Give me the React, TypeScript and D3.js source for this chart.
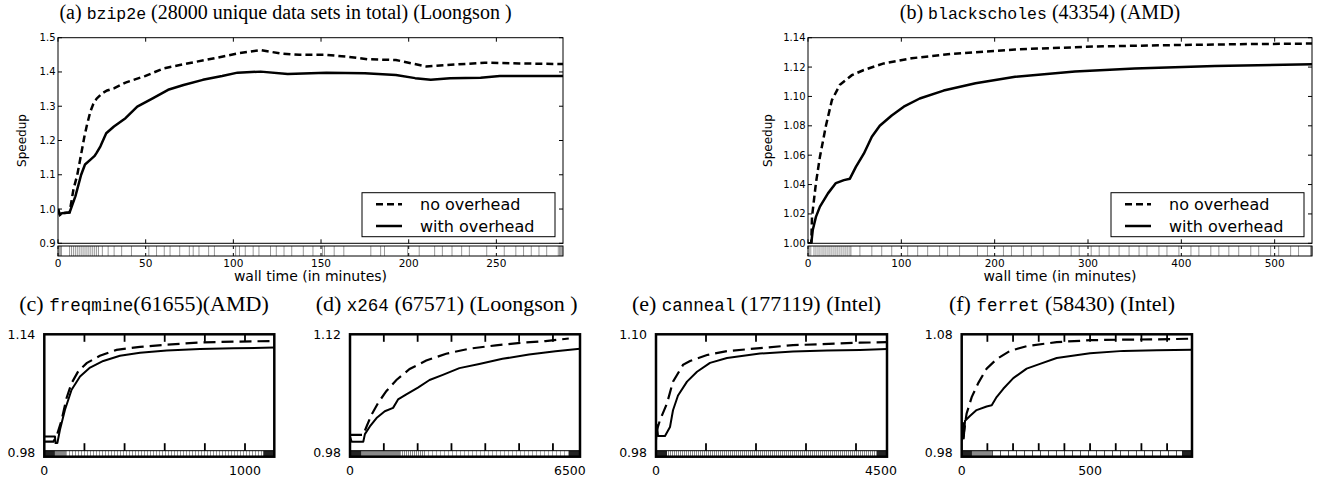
import React, { useEffect, useRef } from "react";
import * as d3 from "d3";

type Pt = [number, number];
type Band = [number, number, string];

// ---------- (a) bzip2e ----------
const bzipNoOverhead: Pt[] = [
  [0, 1.0], [1.1, 0.983], [2.2, 0.988], [6.6, 0.99], [8.8, 1.057], [11, 1.1], [13.2, 1.16],
  [15, 1.21], [16.5, 1.245], [18.5, 1.285], [20, 1.305], [22, 1.322], [25.3, 1.338], [28, 1.346],
  [31.9, 1.352], [38.5, 1.369], [49.6, 1.388], [60.6, 1.411], [76, 1.427], [89.2, 1.44],
  [102.4, 1.454], [115.6, 1.464], [126.7, 1.454], [137.7, 1.45], [153, 1.45], [164, 1.445],
  [177, 1.437], [192.7, 1.435], [210, 1.416], [221, 1.42], [243.4, 1.427], [263, 1.425], [288, 1.423],
];
const bzipWithOverhead: Pt[] = [
  [0, 1.0], [1.1, 0.983], [2.2, 0.988], [6.6, 0.99], [9.9, 1.037], [13.2, 1.1], [15.4, 1.13],
  [18.7, 1.145], [20.9, 1.155], [22, 1.164], [24.2, 1.183], [27.5, 1.221], [31.9, 1.241],
  [38.5, 1.265], [45.2, 1.299], [54, 1.323], [62.8, 1.348], [71.6, 1.362], [82.6, 1.377],
  [93.6, 1.388], [102.4, 1.398], [115.6, 1.401], [131, 1.394], [153, 1.398], [175, 1.396],
  [192.7, 1.391], [203.7, 1.382], [212.6, 1.377], [223.6, 1.382], [241, 1.383], [252, 1.388], [288, 1.388],
];
const bzipRug = [
  0.5, 1, 1.5, 2, 6.6, 7.7, 8.8, 9.9, 11, 12.1, 13.2, 14.3, 15.4, 16.5, 17.6, 18.7, 19.8, 20.9, 22, 23.1,
  25.3, 28.6, 32, 36.3, 41.9, 51.8, 56.2, 60.6, 63.9, 69.4, 74.9, 77.1, 80.4, 85.9, 89.2, 101.3, 103.5,
  106.8, 111.3, 114.6, 121.2, 124.5, 128.9, 133.3, 139.9, 145.4, 150.9, 152, 157.5, 163, 178.4, 184,
  186.2, 199.4, 206, 214.8, 219.2, 224.7, 230.2, 234.6, 244.5, 254.5, 261.1, 265.5, 269.9, 274.3,
  278.7, 285.3, 286, 286.5, 287, 287.5,
];
const bzipXTicks = [0, 50, 100, 150, 200, 250];
const bzipYTicks = [0.9, 1.0, 1.1, 1.2, 1.3, 1.4, 1.5];

// ---------- (b) blackscholes ----------
const bsNoOverhead: Pt[] = [
  [0, 1.0], [3.5, 1.0], [4.3, 1.018], [8.5, 1.041], [12.8, 1.059], [19.2, 1.08], [25.6, 1.0975],
  [34.2, 1.108], [47, 1.1145], [59.8, 1.118], [81.2, 1.1225], [111, 1.126], [153.8, 1.129],
  [222, 1.132], [307.7, 1.134], [393, 1.135], [478.6, 1.1357], [540, 1.136],
];
const bsWithOverhead: Pt[] = [
  [0, 1.0], [3.5, 1.0], [5.1, 1.009], [8.5, 1.018], [12.8, 1.025], [21.4, 1.034], [29.9, 1.041],
  [38.5, 1.043], [44.9, 1.044], [51.3, 1.052], [59.8, 1.061], [68.4, 1.0725], [76.9, 1.08],
  [89.7, 1.087], [102.6, 1.093], [119.7, 1.0986], [145.3, 1.104], [179.5, 1.109], [222, 1.1134],
  [286, 1.117], [350, 1.119], [436, 1.1207], [540, 1.122],
];
const bsRug = [
  1.3, 3, 6.4, 8.5, 10.7, 12.8, 15, 17.1, 19.2, 21.4, 23.5, 25.6, 27.8, 29.9, 32, 34.2, 36.3, 38.5,
  40.6, 42.7, 44.9, 46, 55.6, 68.4, 79, 89.7, 106.8, 117.5, 128.2, 141, 149.6, 162.4, 181.6, 192.3,
  209.4, 218, 230.8, 239.3, 252.1, 269.2, 282, 290.6, 303.4, 312, 322.6, 333.3, 344, 354.7, 363.2,
  376, 384.6, 397.4, 410.3, 418.8, 431.6, 440.2, 450.9, 461.5, 474.4, 482.9, 495.7, 504.3, 517.1,
  525.6, 538.5, 539, 539.5, 540,
];
const bsXTicks = [0, 100, 200, 300, 400, 500];
const bsYTicks = [1.0, 1.02, 1.04, 1.06, 1.08, 1.1, 1.12, 1.14];

const legendLabels = ["no overhead", "with overhead"];

// ---------- (c) freqmine ----------
const freqNoOverhead: Pt[] = [
  [0, 0.995], [45, 0.995], [61, 1.002], [86, 1.024], [111, 1.054], [136, 1.074], [169, 1.09],
  [211, 1.101], [277, 1.111], [360, 1.119], [477, 1.123], [610, 1.126], [776, 1.129], [942, 1.13], [1146, 1.131],
];
const freqWithOverhead: Pt[] = [
  [0, 1.002], [53, 1.002], [56, 0.993], [65, 0.993], [78, 1.011], [103, 1.038], [136, 1.065],
  [178, 1.083], [228, 1.095], [294, 1.104], [377, 1.111], [477, 1.115], [610, 1.118], [776, 1.12],
  [942, 1.121], [1146, 1.122],
];
const freqRug: Band[] = [[0, 53, "dense"], [53, 111, "mid"], [111, 1091, "sparse"], [1091, 1146, "dense"]];
const freqTickMarks = [200, 400, 600, 800, 1000];
const freqXLabels = [0, 1000];
const freqYLabels = [0.98, 1.14];

// ---------- (d) x264 ----------
const x264NoOverhead: Pt[] = [
  [0, 1.001], [392, 1.001], [490, 1.011], [637, 1.025], [833, 1.039], [1078, 1.053], [1372, 1.066],
  [1764, 1.079], [2254, 1.089], [2842, 1.097], [3528, 1.103], [4312, 1.107], [5096, 1.11],
  [5782, 1.112], [6468, 1.115],
];
const x264WithOverhead: Pt[] = [
  [0, 0.999], [49, 0.993], [392, 0.993], [441, 1.002], [588, 1.011], [784, 1.021], [1029, 1.029],
  [1274, 1.033], [1421, 1.043], [1666, 1.049], [2009, 1.057], [2352, 1.066], [2744, 1.072],
  [3234, 1.08], [3822, 1.085], [4508, 1.091], [5292, 1.096], [6076, 1.1], [6800, 1.103],
];
const x264Rug: Band[] = [[0, 343, "dense"], [343, 1500, "mid"], [1500, 2254, "fine"], [2254, 6468, "sparse"], [6468, 6800, "dense"]];
const x264TickMarks = [1000, 2000, 3000, 4000, 5000, 6000];
const x264XLabels = [0, 6500];
const x264YLabels = [0.98, 1.12];

// ---------- (e) canneal ----------
const cannealNoOverhead: Pt[] = [
  [0, 1.0], [80, 1.013], [220, 1.03], [340, 1.052], [540, 1.069], [680, 1.073], [1020, 1.079],
  [1420, 1.083], [2080, 1.086], [2740, 1.089], [4080, 1.0915], [4620, 1.092],
];
const cannealWithOverhead: Pt[] = [
  [0, 0.992], [20, 1.008], [40, 0.997], [180, 0.997], [280, 1.006], [340, 1.023], [440, 1.038],
  [620, 1.052], [820, 1.062], [1080, 1.071], [1420, 1.076], [2080, 1.0805], [2740, 1.0825],
  [3420, 1.0835], [4080, 1.084], [4620, 1.085],
];
const cannealRug: Band[] = [[0, 220, "dense"], [220, 4420, "fine"], [4420, 4620, "dense"]];
const cannealTickMarks = [1000, 2000, 3000, 4000];
const cannealXLabels = [0, 4500];
const cannealYLabels = [0.98, 1.1];

// ---------- (f) ferret ----------
const ferretNoOverhead: Pt[] = [
  [6, 0.993], [19, 1.013], [39, 1.027], [65, 1.039], [97, 1.051], [136, 1.059], [188, 1.066],
  [253, 1.07], [370, 1.0734], [500, 1.075], [629, 1.0755], [760, 1.0757], [897, 1.0763],
];
const ferretWithOverhead: Pt[] = [
  [0, 0.99], [5, 1.005], [8, 0.992], [13, 1.007], [32, 1.011], [58, 1.016], [97, 1.019], [117, 1.02],
  [136, 1.027], [162, 1.034], [201, 1.043], [253, 1.051], [305, 1.055], [370, 1.06], [500, 1.064],
  [630, 1.066], [760, 1.0665], [897, 1.067],
];
const ferretRug: Band[] = [[0, 40, "dense"], [40, 118, "mid"], [118, 858, "ladder"], [858, 897, "dense"]];
const ferretTickMarks = [100, 200, 300, 400, 500, 600, 700, 800];
const ferretXLabels = [0, 500];
const ferretYLabels = [0.98, 1.08];

const SANS = "'DejaVu Sans', sans-serif";
const SERIF = "'Liberation Serif', 'Times New Roman', serif";
const MONO = "'Liberation Mono', 'DejaVu Sans Mono', monospace";

type Sel = d3.Selection<SVGGElement, unknown, null, undefined>;

function drawBig(root: Sel, p: any) {
  const x = d3.scaleLinear().domain([0, p.xMax]).range([p.left, p.right]);
  const y = d3.scaleLinear().domain(p.yDomain).range([p.bottom, p.top]);
  const g = root.append("g");
  const clipId = `clip-${p.id}`;
  g.append("clipPath").attr("id", clipId).append("rect")
    .attr("x", p.left).attr("y", p.top).attr("width", p.right - p.left).attr("height", p.bottom - p.top);

  const line = d3.line<Pt>().x((d) => x(d[0])).y((d) => y(d[1]));
  g.append("path").datum(p.noOverhead as Pt[]).attr("d", line).attr("fill", "none")
    .attr("stroke", "#000").attr("stroke-width", 2.5).attr("stroke-dasharray", "7,4")
    .attr("clip-path", `url(#${clipId})`);
  g.append("path").datum(p.withOverhead as Pt[]).attr("d", line).attr("fill", "none")
    .attr("stroke", "#000").attr("stroke-width", 2.5).attr("stroke-linejoin", "round")
    .attr("clip-path", `url(#${clipId})`);

  g.append("rect").attr("x", p.left).attr("y", p.top).attr("width", p.right - p.left)
    .attr("height", p.bottom - p.top).attr("fill", "none").attr("stroke", "#000").attr("stroke-width", 1);

  // y ticks
  p.yTicks.forEach((v: number) => {
    const yy = y(v);
    g.append("line").attr("x1", p.left).attr("x2", p.left + 4).attr("y1", yy).attr("y2", yy).attr("stroke", "#000");
    g.append("line").attr("x1", p.right - 4).attr("x2", p.right).attr("y1", yy).attr("y2", yy).attr("stroke", "#000");
    g.append("text").attr("x", p.left - 2.5).attr("y", yy).attr("text-anchor", "end")
      .attr("dominant-baseline", "central").attr("font-family", SANS).attr("font-size", 10)
      .text(d3.format(p.yFmt)(v));
  });

  // rug strip under the plot
  const rugTop = p.bottom + 2.7;
  const rugBottom = rugTop + 10;
  p.rug.forEach((v: number) => {
    g.append("line").attr("x1", x(v)).attr("x2", x(v)).attr("y1", rugTop).attr("y2", rugBottom)
      .attr("stroke", "#9a9a9a").attr("stroke-width", 1);
  });
  g.append("rect").attr("x", p.left).attr("y", rugTop).attr("width", p.right - p.left)
    .attr("height", rugBottom - rugTop).attr("fill", "none").attr("stroke", "#000").attr("stroke-width", 1);

  // x ticks
  p.xTicks.forEach((v: number) => {
    const xx = x(v);
    g.append("line").attr("x1", xx).attr("x2", xx).attr("y1", p.top).attr("y2", p.top + 4).attr("stroke", "#000");
    g.append("line").attr("x1", xx).attr("x2", xx).attr("y1", p.bottom - 4).attr("y2", p.bottom).attr("stroke", "#000");
    g.append("line").attr("x1", xx).attr("x2", xx).attr("y1", rugTop).attr("y2", rugTop + 3).attr("stroke", "#000");
    g.append("line").attr("x1", xx).attr("x2", xx).attr("y1", rugBottom - 3).attr("y2", rugBottom).attr("stroke", "#000");
    g.append("text").attr("x", xx).attr("y", rugBottom + 11).attr("text-anchor", "middle")
      .attr("font-family", SANS).attr("font-size", 10.5).text(String(v));
  });

  g.append("text").attr("x", (p.left + p.right) / 2).attr("y", 281).attr("text-anchor", "middle")
    .attr("font-family", SANS).attr("font-size", 14).text("wall time (in minutes)");
  g.append("text").attr("transform", `translate(${p.ylabelX},${(p.top + p.bottom) / 2}) rotate(-90)`)
    .attr("text-anchor", "middle").attr("font-family", SANS).attr("font-size", 12).text("Speedup");

  // legend, anchored to the lower right corner of the plot
  const lw = 193;
  const lx = p.right - 8 - lw;
  const lTop = p.bottom - 50.6;
  g.append("rect").attr("x", lx).attr("y", lTop).attr("width", lw).attr("height", 44)
    .attr("fill", "#fff").attr("stroke", "#000").attr("stroke-width", 1);
  legendLabels.forEach((lab, i) => {
    const ly = lTop + 11.6 + i * 21.7;
    g.append("line").attr("x1", lx + 14).attr("x2", lx + 40).attr("y1", ly).attr("y2", ly)
      .attr("stroke", "#000").attr("stroke-width", 2.5).attr("stroke-dasharray", i === 0 ? "7,4" : null);
    g.append("text").attr("x", lx + 58).attr("y", ly).attr("dominant-baseline", "central")
      .attr("font-family", SANS).attr("font-size", 16).text(lab);
  });
}

function drawSmall(root: Sel, defs: any, p: any) {
  const yBase = 452.7;
  const frameBottom = 456.7;
  const bandTop = 450.7;
  const x = d3.scaleLinear().domain([0, p.xMax]).range([p.left, p.right]);
  const y = d3.scaleLinear().domain([p.yLabels[0], p.yLabels[1]]).range([yBase, p.top]);
  const g = root.append("g");
  const clipId = `clip-${p.id}`;
  g.append("clipPath").attr("id", clipId).append("rect")
    .attr("x", p.left).attr("y", p.top).attr("width", p.right - p.left).attr("height", bandTop - p.top);

  const addPattern = (id: string, step: number, color: string) => {
    const pat = defs.append("pattern").attr("id", id).attr("patternUnits", "userSpaceOnUse")
      .attr("width", step).attr("height", 10);
    pat.append("rect").attr("width", step).attr("height", 10).attr("fill", "#fff");
    pat.append("rect").attr("x", 0).attr("width", 1).attr("height", 10).attr("fill", color);
  };
  addPattern(`stripe-${p.id}`, p.stripe, p.stripeColor);
  addPattern(`fine-${p.id}`, 2, "#8c8c8c");

  const fills: Record<string, string> = {
    dense: "#222",
    mid: "#8a8a8a",
    fine: `url(#fine-${p.id})`,
    sparse: `url(#stripe-${p.id})`,
    ladder: `url(#stripe-${p.id})`,
  };
  (p.rug as Band[]).forEach(([a, b, kind]) => {
    g.append("rect").attr("x", x(a)).attr("y", bandTop).attr("width", Math.max(0, x(b) - x(a)))
      .attr("height", frameBottom - bandTop).attr("fill", fills[kind]);
  });
  g.append("line").attr("x1", p.left).attr("x2", p.right).attr("y1", bandTop).attr("y2", bandTop)
    .attr("stroke", "#000").attr("stroke-width", 1);

  const line = d3.line<Pt>().x((d) => x(d[0])).y((d) => y(d[1]));
  g.append("path").datum(p.noOverhead as Pt[]).attr("d", line).attr("fill", "none")
    .attr("stroke", "#000").attr("stroke-width", 2.2).attr("stroke-dasharray", "12,6")
    .attr("clip-path", `url(#${clipId})`);
  g.append("path").datum(p.withOverhead as Pt[]).attr("d", line).attr("fill", "none")
    .attr("stroke", "#000").attr("stroke-width", 2).attr("stroke-linejoin", "round")
    .attr("clip-path", `url(#${clipId})`);

  g.append("rect").attr("x", p.left).attr("y", p.top).attr("width", p.right - p.left)
    .attr("height", frameBottom - p.top).attr("fill", "none").attr("stroke", "#000").attr("stroke-width", 2.5);

  p.tickMarks.forEach((v: number) => {
    const xx = x(v);
    g.append("line").attr("x1", xx).attr("x2", xx).attr("y1", p.top).attr("y2", p.top + 7.5)
      .attr("stroke", "#000").attr("stroke-width", 1.8);
    g.append("line").attr("x1", xx).attr("x2", xx).attr("y1", bandTop - 7.5).attr("y2", bandTop)
      .attr("stroke", "#000").attr("stroke-width", 1.8);
  });
  p.xLabels.forEach((v: number) => {
    g.append("text").attr("x", x(v)).attr("y", 474.5).attr("text-anchor", "middle")
      .attr("font-family", SANS).attr("font-size", 12.5).text(String(v));
  });
  p.yLabels.forEach((v: number) => {
    g.append("text").attr("x", p.left - 9).attr("y", y(v)).attr("text-anchor", "end")
      .attr("dominant-baseline", "central").attr("font-family", SANS).attr("font-size", 12.5)
      .text(d3.format(".2f")(v));
  });
}

const titles = [
  { x: 285.5, y: 18.5, size: 20, mono: 16.5, parts: ["(a) ", "bzip2e", " (28000 unique data sets in total) (Loongson )"] },
  { x: 1040, y: 18.5, size: 20, mono: 16.5, parts: ["(b) ", "blackscholes", " (43354) (AMD)"] },
  { x: 144, y: 310.5, size: 22, mono: 17.5, parts: ["(c) ", "freqmine", "(61655)(AMD)"] },
  { x: 446.7, y: 310.5, size: 22, mono: 17.5, parts: ["(d) ", "x264", " (67571) (Loongson )"] },
  { x: 756.5, y: 310.5, size: 22, mono: 17.5, parts: ["(e) ", "canneal", " (177119) (Intel)"] },
  { x: 1062, y: 310.5, size: 22, mono: 17.5, parts: ["(f) ", "ferret", " (58430) (Intel)"] },
];

const App = () => {
  const svgRef = useRef<SVGSVGElement>(null);

  useEffect(() => {
    const svg = d3.select(svgRef.current);
    svg.selectAll("*").remove();
    const defs = svg.append("defs");
    const root = svg.append("g") as unknown as Sel;

    drawBig(root, {
      id: "a", left: 58, right: 563, top: 37.7, bottom: 243.3, xMax: 288, yDomain: [0.9, 1.5],
      xTicks: bzipXTicks, yTicks: bzipYTicks, yFmt: ".1f", noOverhead: bzipNoOverhead,
      withOverhead: bzipWithOverhead, rug: bzipRug, ylabelX: 26,
    });
    drawBig(root, {
      id: "b", left: 808, right: 1312, top: 37.7, bottom: 243.3, xMax: 540, yDomain: [1.0, 1.14],
      xTicks: bsXTicks, yTicks: bsYTicks, yFmt: ".2f", noOverhead: bsNoOverhead,
      withOverhead: bsWithOverhead, rug: bsRug, ylabelX: 772,
    });

    drawSmall(root, defs, {
      id: "c", left: 44.3, right: 274.3, top: 334.3, xMax: 1146, noOverhead: freqNoOverhead,
      withOverhead: freqWithOverhead, rug: freqRug, tickMarks: freqTickMarks, xLabels: freqXLabels,
      yLabels: freqYLabels, stripe: 3, stripeColor: "#999",
    });
    drawSmall(root, defs, {
      id: "d", left: 350, right: 580, top: 334.3, xMax: 6800, noOverhead: x264NoOverhead,
      withOverhead: x264WithOverhead, rug: x264Rug, tickMarks: x264TickMarks, xLabels: x264XLabels,
      yLabels: x264YLabels, stripe: 4, stripeColor: "#aaa",
    });
    drawSmall(root, defs, {
      id: "e", left: 656, right: 887, top: 334.3, xMax: 4620, noOverhead: cannealNoOverhead,
      withOverhead: cannealWithOverhead, rug: cannealRug, tickMarks: cannealTickMarks, xLabels: cannealXLabels,
      yLabels: cannealYLabels, stripe: 3, stripeColor: "#aaa",
    });
    drawSmall(root, defs, {
      id: "f", left: 961.7, right: 1192, top: 334.3, xMax: 897, noOverhead: ferretNoOverhead,
      withOverhead: ferretWithOverhead, rug: ferretRug, tickMarks: ferretTickMarks, xLabels: ferretXLabels,
      yLabels: ferretYLabels, stripe: 8, stripeColor: "#555",
    });

    // panel titles (serif with typewriter benchmark names)
    titles.forEach((t) => {
      const tx = root.append("text").attr("x", t.x).attr("y", t.y).attr("text-anchor", "middle")
        .attr("font-family", SERIF).attr("font-size", t.size);
      t.parts.forEach((s, i) => {
        tx.append("tspan").attr("font-family", i === 1 ? MONO : SERIF)
          .attr("font-size", i === 1 ? t.mono : t.size).attr("xml:space", "preserve").text(s);
      });
    });
  }, []);

  return (
    <svg
      ref={svgRef}
      width={1318}
      height={479}
      style={{ position: "absolute", left: 0, top: 0, background: "#fff" }}
    ></svg>
  );
};

export default App;
